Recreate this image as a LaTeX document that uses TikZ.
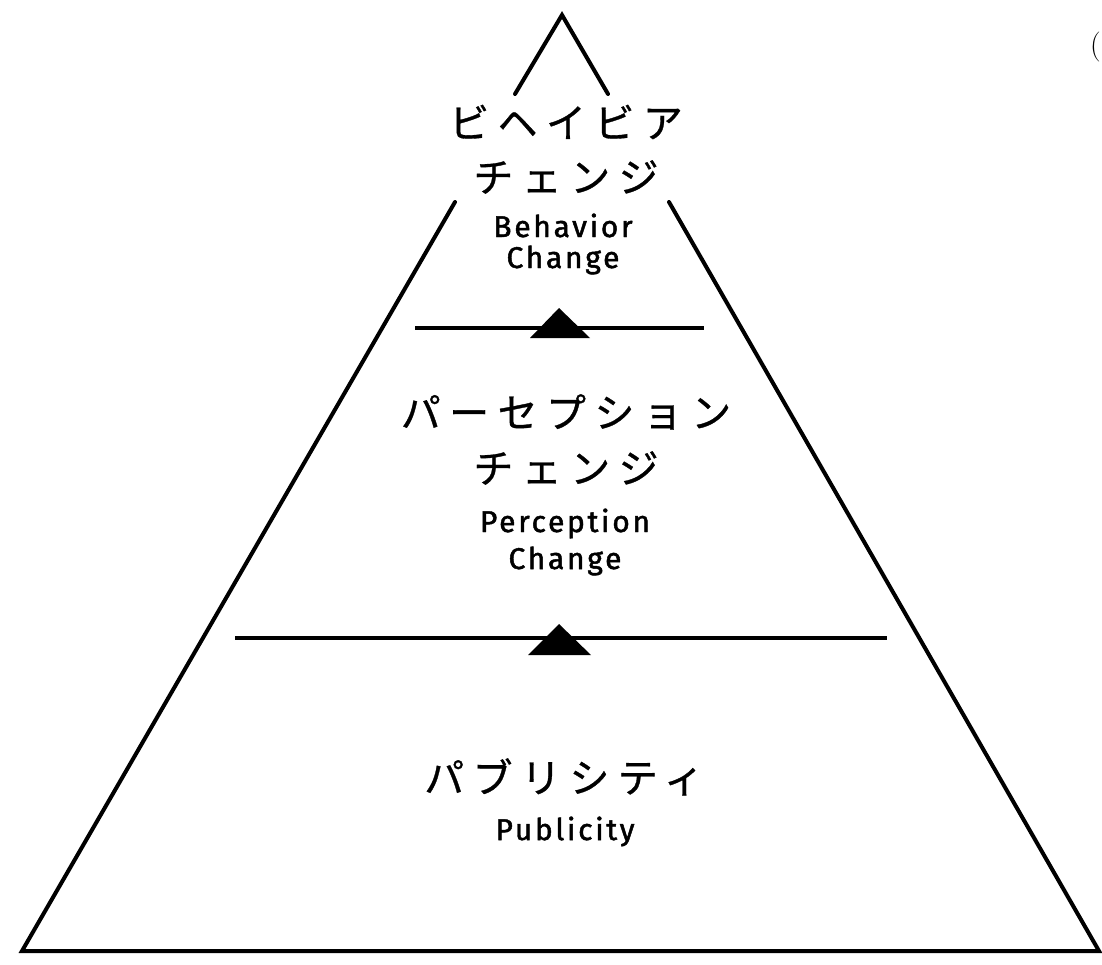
\documentclass[tikz,border=0pt]{standalone}
\usepackage{fontspec}
\newfontfamily\jpfont{Noto Sans CJK JP}[LetterSpace=21,FakeBold=0.8]
\newfontfamily\enfont{Fira Sans}[LetterSpace=9,FakeBold=1.6]
\begin{document}
\begin{tikzpicture}[x=1pt,y=-1pt,
  edge/.style={line width=4pt,line cap=round,line join=miter},
  divider/.style={line width=4pt},
  marker/.style={fill=black},
  jplabel/.style={inner sep=0pt,anchor=center,font=\jpfont\fontsize{40}{48}\selectfont},
  enlabel/.style={inner sep=0pt,anchor=base,font=\enfont\fontsize{30}{34}\selectfont}]
\useasboundingbox (0,0) rectangle (1102,964);
% outline points
\coordinate (apex) at (562,15);
\coordinate (lt) at (515,94);
\coordinate (rt) at (608,94);
\coordinate (lm) at (455,202);
\coordinate (rm) at (669,202);
\coordinate (bl) at (22,951);
\coordinate (br) at (1099,951);
\draw[edge] (lt) -- (apex) -- (rt);
\draw[edge] (lm) -- (bl) -- (br) -- (rm);
% dividers
\coordinate (d1l) at (415,328);
\coordinate (d1r) at (704,328);
\coordinate (d2l) at (235,638);
\coordinate (d2r) at (887,638);
\draw[divider] (d1l) -- (d1r);
\draw[divider] (d2l) -- (d2r);
% markers
\coordinate (m1a) at (559,308);
\coordinate (m1b) at (530,338);
\coordinate (m1c) at (590,338);
\fill[marker] (m1a) -- (m1b) -- (m1c) -- cycle;
\coordinate (m2a) at (559,624);
\coordinate (m2b) at (528,655);
\coordinate (m2c) at (591,655);
\fill[marker] (m2a) -- (m2b) -- (m2c) -- cycle;
% labels
\node[jplabel] (t1) at (566,122) {ビヘイビア};
\node[jplabel] (t2) at (566,177) {チェンジ};
\node[enlabel] (t3) at (563,237) {Behavior};
\node[enlabel] (t4) at (563,268) {Change};
\node[jplabel] (m1) at (566,412) {パーセプション};
\node[jplabel] (m2) at (566,468) {チェンジ};
\node[enlabel] (m3) at (565,532) {Perception};
\node[enlabel] (m4) at (565,569) {Change};
\node[jplabel] (b1) at (564,777) {パブリシティ};
\node[enlabel] (b2) at (565,840) {Publicity};
\node[inner sep=0pt,anchor=east,font=\fontsize{30}{34}\selectfont] (paren) at (1101,47) {(};
\end{tikzpicture}
\end{document}
